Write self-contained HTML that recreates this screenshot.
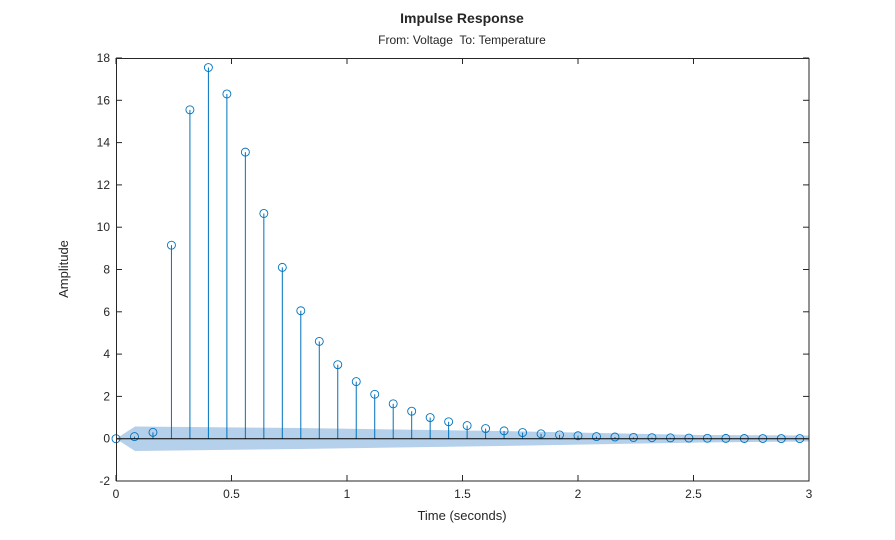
<!DOCTYPE html>
<html><head><meta charset="utf-8"><style>
body{margin:0;background:#fff}
svg{display:block;font-family:"Liberation Sans",Arial,sans-serif}
</style></head><body>
<svg id="s" width="895" height="540" viewBox="0 0 895 540">
<rect x="0" y="0" width="895" height="540" fill="#fff"/>
<text x="462" y="23" text-anchor="middle" font-size="14" font-weight="bold" fill="#262626">Impulse Response</text>
<text x="462" y="44" text-anchor="middle" font-size="12" fill="#262626">From: Voltage&#160; To: Temperature</text>
<path d="M116,438.7 L135,426.5 L300,428 L500,431 L700,435 L809,435.5 L809,441.5 L700,442.5 L500,446 L300,449 L135,451 Z" fill="#a8c8e6" fill-opacity="0.85"/>
<g id="st"></g>
<line x1="116" y1="438.7" x2="809" y2="438.7" stroke="#000" stroke-width="1"/>
<rect x="116.5" y="58.5" width="692.5" height="422.5" fill="none" stroke="#262626" stroke-width="1"/>
<g id="ax" font-size="12" fill="#262626"></g>
<text x="462" y="520" text-anchor="middle" font-size="13" fill="#262626">Time (seconds)</text>
<text transform="translate(68,269) rotate(-90)" text-anchor="middle" font-size="13" fill="#262626">Amplitude</text>
</svg>
<script>
var X=function(t){return 116+t*231},Y=function(v){return 438.7-v*21.15};
var vals=[0,0.1,0.3,9.15,15.55,17.55,16.3,13.55,10.65,8.1,6.05,4.6,3.5,2.7,2.1,1.65,1.3,1.0,0.8,0.62,0.48,0.37,0.29,0.23,0.18,0.14,0.1,0.08,0.06,0.05,0.04,0.03,0.02,0.015,0.01,0.008,0.006,0.005];
var h='';
for(var i=0;i<vals.length;i++){var t=i*0.08;if(t>2.97)break;var x=X(t),y=Y(vals[i]);
h+='<line x1="'+x+'" y1="438.7" x2="'+x+'" y2="'+y+'" stroke="#0072bd" stroke-width="1"/>';
h+='<circle cx="'+x+'" cy="'+y+'" r="4" fill="none" stroke="#0072bd" stroke-width="0.9"/>';}
document.getElementById('st').innerHTML=h;
var a='';
for(var v=-2;v<=18;v+=2){var y=Y(v);a+='<line x1="116" y1="'+y+'" x2="122" y2="'+y+'" stroke="#262626"/><line x1="803" y1="'+y+'" x2="809" y2="'+y+'" stroke="#262626"/><text x="110" y="'+(y+4)+'" text-anchor="end">'+v+'</text>';}
for(var t=0;t<=3;t+=0.5){var x=X(t);a+='<line x1="'+x+'" y1="481" x2="'+x+'" y2="475" stroke="#262626"/><line x1="'+x+'" y1="58" x2="'+x+'" y2="64" stroke="#262626"/><text x="'+x+'" y="498" text-anchor="middle">'+t+'</text>';}
document.getElementById('ax').innerHTML=a;
</script>
</body></html>
